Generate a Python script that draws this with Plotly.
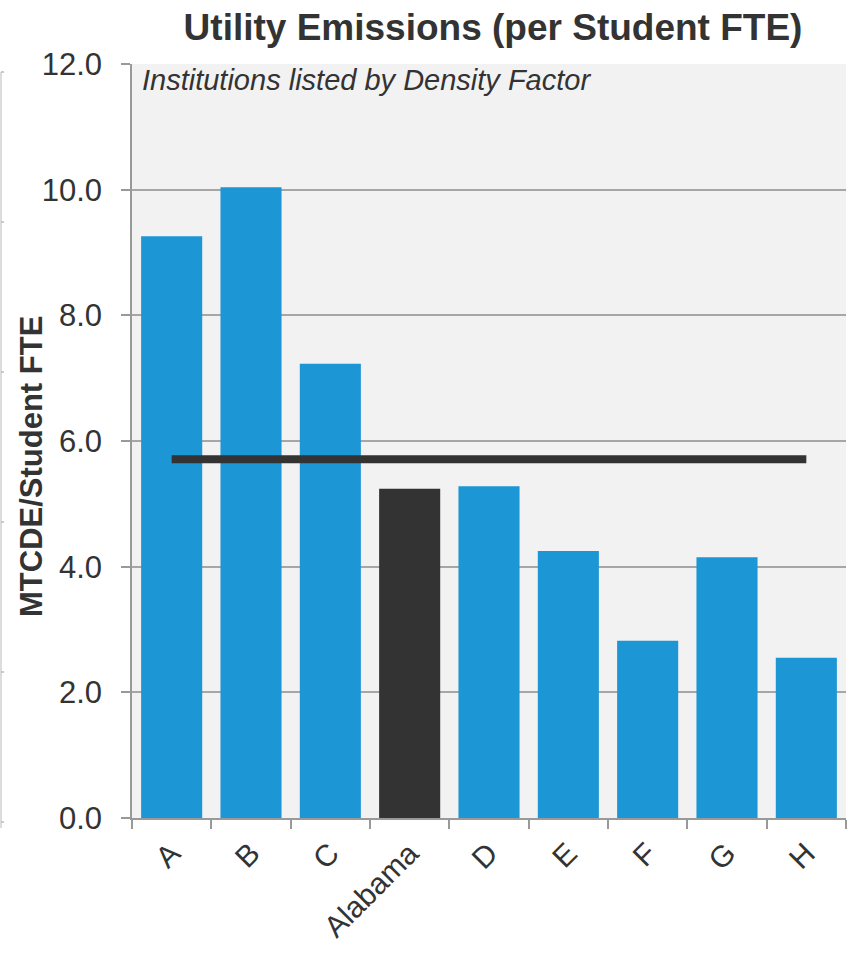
import plotly.graph_objects as go

# Utility emissions per student FTE, institutions ordered by density factor
institutions = ["A", "B", "C", "Alabama", "D", "E", "F", "G", "H"]
emissions = [9.26, 10.04, 7.23, 5.24, 5.28, 4.25, 2.82, 4.15, 2.55]
peer_average = 5.71

BLUE = "#1C96D4"
DARK = "#333333"
bar_colors = [DARK if name == "Alabama" else BLUE for name in institutions]

fig = go.Figure()

fig.add_trace(go.Bar(
    x=institutions,
    y=emissions,
    marker=dict(color=bar_colors, line=dict(width=0)),
    width=0.77,
    showlegend=False,
    hoverinfo="x+y",
))

# Average line across the peer group
fig.add_trace(go.Scatter(
    x=[institutions[0], institutions[-1]],
    y=[peer_average, peer_average],
    mode="lines",
    line=dict(color=DARK, width=8),
    showlegend=False,
    hoverinfo="y",
))

fig.update_layout(
    width=855,
    height=953,
    margin=dict(l=132, r=9, t=64, b=135),
    paper_bgcolor="white",
    plot_bgcolor="#F2F2F2",
    font=dict(family="Liberation Sans, Arial, sans-serif", color=DARK),
    title=dict(
        text="<b>Utility Emissions (per Student FTE)</b>",
        font=dict(size=37, color=DARK),
        x=493 / 855,
        xanchor="center",
        y=1 - 27 / 953,
        yanchor="middle",
    ),
    xaxis=dict(
        type="category",
        tickangle=-45,
        tickfont=dict(size=30, color=DARK),
        ticks="outside",
        tickson="boundaries",
        ticklen=9,
        tickcolor="#999999",
        tickwidth=1.5,
        showline=True,
        linecolor="#999999",
        linewidth=1.5,
        showgrid=False,
        ticklabelstandoff=4,
    ),
    yaxis=dict(
        range=[0, 12],
        dtick=2,
        tickformat=".1f",
        tickfont=dict(size=31, color=DARK),
        ticks="outside",
        ticklen=9,
        tickcolor="#999999",
        tickwidth=1.5,
        showline=True,
        linecolor="#999999",
        linewidth=1.5,
        gridcolor="#A6A6A6",
        gridwidth=1.5,
        zeroline=False,
        ticklabelstandoff=13,
    ),
    annotations=[
        dict(
            text="<b>MTCDE/Student FTE</b>",
            xref="paper", yref="paper",
            x=-101 / 714, y=(818 - 467) / 754,
            xanchor="center", yanchor="middle",
            textangle=-90,
            showarrow=False,
            font=dict(size=31, color=DARK),
        ),
        dict(
            text="<i>Institutions listed by Density Factor</i>",
            xref="paper", yref="paper",
            x=8 / 714, y=1 - 16 / 754,
            xanchor="left", yanchor="middle",
            showarrow=False,
            font=dict(size=29, color=DARK),
        ),
    ],
)

# Faint axis frame at the far left edge of the page
frame_shapes = [dict(type="line", xref="paper", yref="paper",
                     x0=-131 / 714, x1=-131 / 714,
                     y0=(818 - 72) / 754, y1=(818 - 828) / 754,
                     line=dict(color="#D0D0D0", width=1.5))]
for ty in [72, 222, 372, 522, 672, 822]:
    frame_shapes.append(dict(type="line", xref="paper", yref="paper",
                             x0=-131 / 714, x1=-128 / 714,
                             y0=(818 - ty) / 754, y1=(818 - ty) / 754,
                             line=dict(color="#BBBBBB", width=1.5)))
fig.update_layout(shapes=frame_shapes)

fig.write_html("out.html")
